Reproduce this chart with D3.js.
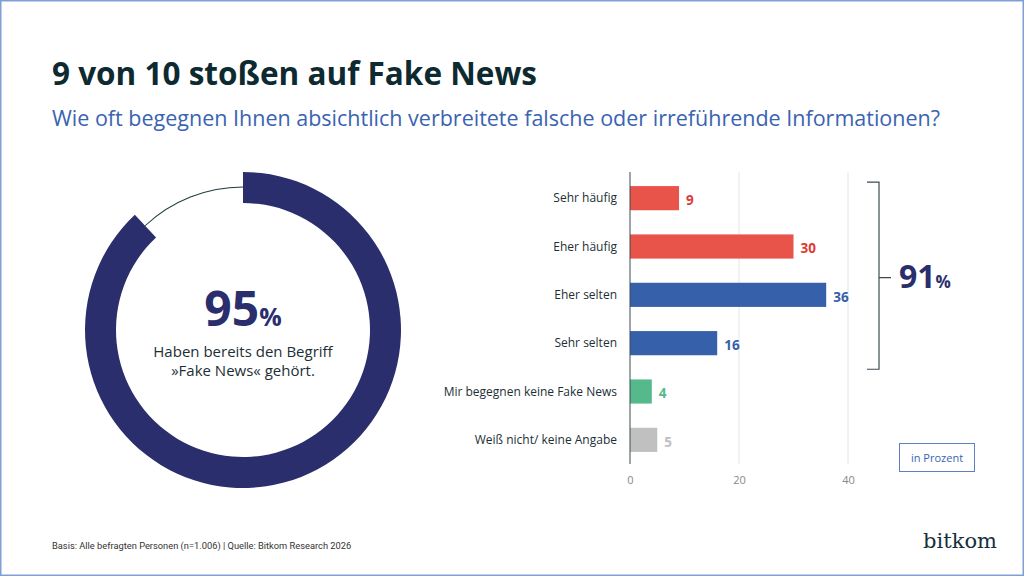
<!DOCTYPE html>
<html>
<head>
<meta charset="utf-8">
<script src="https://cdn.jsdelivr.net/npm/d3@7"></script>
<style>
  body { margin: 0; background: #fff; }
  svg { display: block; font-family: "Open Sans", "Noto Sans", sans-serif; }
</style>
</head>
<body>
<svg id="chart" width="1024" height="576"></svg>
<script>
// data
var categories = ["Sehr häufig", "Eher häufig", "Eher selten", "Sehr selten", "Mir begegnen keine Fake News", "Weiß nicht/ keine Angabe"];
var values = [9, 30, 36, 16, 4, 5];
var barColors = ["#e8534a", "#e8534a", "#3660a9", "#3660a9", "#56b98b", "#c0c0c0"];
var labelColors = ["#e03a36", "#e03a36", "#3660a9", "#3660a9", "#56b98b", "#c0c0c0"];
var xTicks = [0, 20, 40];
var donutValue = 95;
var ringShare = 88; // share of the ring that is filled, as drawn in the picture
var bracketTotal = 91;

var svg = d3.select("#chart");

// frame
svg.append("rect")
  .attr("x", 0.75).attr("y", 0.75)
  .attr("width", 1022.5).attr("height", 574.5)
  .attr("fill", "none")
  .attr("stroke", "#7f9fd6")
  .attr("stroke-width", 1.5);

// titles
svg.append("text")
  .attr("x", 52).attr("y", 85)
  .attr("font-size", 31.5).attr("font-weight", 700)
  .attr("fill", "#0e2a31")
  .text("9 von 10 stoßen auf Fake News");

svg.append("text")
  .attr("x", 52).attr("y", 126)
  .attr("font-size", 21.5)
  .attr("fill", "#3a63b1")
  .text("Wie oft begegnen Ihnen absichtlich verbreitete falsche oder irreführende Informationen?");

// donut
var cx = 243, cy = 330;
var donut = svg.append("g").attr("transform", "translate(" + cx + "," + cy + ")");
var pie = d3.pie().sort(null).value(function(d) { return d; });
var arcs = pie([ringShare, 100 - ringShare]);

donut.append("path")
  .attr("d", d3.arc().innerRadius(127).outerRadius(158)(arcs[0]))
  .attr("fill", "#2b2e6c");

donut.append("path")
  .attr("d", d3.arc().innerRadius(142.5).outerRadius(143.5)(arcs[1]))
  .attr("fill", "#1f3a3c");

donut.append("text")
  .attr("x", 0).attr("y", -4)
  .attr("text-anchor", "middle")
  .attr("font-weight", 700)
  .attr("fill", "#2b2e6c")
  .call(function(t) {
    t.append("tspan").attr("font-size", 48).text(donutValue);
    t.append("tspan").attr("font-size", 25).text("%");
  });

donut.append("text")
  .attr("x", 0).attr("y", 27)
  .attr("text-anchor", "middle")
  .attr("font-size", 15)
  .attr("fill", "#1d2f36")
  .text("Haben bereits den Begriff");

donut.append("text")
  .attr("x", 0).attr("y", 46)
  .attr("text-anchor", "middle")
  .attr("font-size", 15)
  .attr("fill", "#1d2f36")
  .text("»Fake News« gehört.");

// bars
var x = d3.scaleLinear().domain([0, 40]).range([630, 848]);
var y = d3.scaleBand().domain(categories).range([174, 464]).paddingInner(0.5).paddingOuter(0.25);

var grid = svg.append("g");
grid.selectAll("line")
  .data(xTicks.slice(1))
  .join("line")
  .attr("x1", function(d) { return x(d); })
  .attr("x2", function(d) { return x(d); })
  .attr("y1", 172).attr("y2", 464)
  .attr("stroke", "#e4e4e4");

var xAxis = d3.axisBottom(x).tickValues(xTicks).tickSize(0).tickPadding(12);
svg.append("g")
  .attr("transform", "translate(0,464)")
  .call(xAxis)
  .call(function(g) { g.select(".domain").remove(); })
  .selectAll("text")
  .attr("font-family", "Open Sans, sans-serif")
  .attr("font-size", 11)
  .attr("fill", "#888");

svg.selectAll("rect.bar")
  .data(values)
  .join("rect")
  .attr("class", "bar")
  .attr("x", x(0))
  .attr("y", function(d, i) { return y(categories[i]); })
  .attr("width", function(d) { return x(d) - x(0); })
  .attr("height", y.bandwidth())
  .attr("fill", function(d, i) { return barColors[i]; });

svg.append("line")
  .attr("x1", x(0)).attr("x2", x(0))
  .attr("y1", 172).attr("y2", 464)
  .attr("stroke", "#3c4a50")
  .attr("stroke-width", 1);

svg.selectAll("text.cat")
  .data(categories)
  .join("text")
  .attr("class", "cat")
  .attr("x", 617)
  .attr("y", function(d) { return y(d) + y.bandwidth() / 2; })
  .attr("dy", "0.35em")
  .attr("text-anchor", "end")
  .attr("font-size", 12)
  .attr("fill", "#1d2f36")
  .text(function(d) { return d; });

svg.selectAll("text.val")
  .data(values)
  .join("text")
  .attr("class", "val")
  .attr("x", function(d) { return x(d) + 7; })
  .attr("y", function(d, i) { return y(categories[i]) + y.bandwidth() / 2 + 2; })
  .attr("dy", "0.35em")
  .attr("font-size", 13.5)
  .attr("font-weight", 700)
  .attr("fill", function(d, i) { return labelColors[i]; })
  .text(function(d) { return d; });

// bracket around the first four bars
var bTop = y(categories[0]) - 4, bBot = y(categories[3]) + y.bandwidth() + 14;
var bMid = (bTop + bBot) / 2 + 2;
svg.append("path")
  .attr("d", "M867," + bTop + "H879V" + bBot + "H867M879," + bMid + "H891")
  .attr("fill", "none")
  .attr("stroke", "#3c4a50")
  .attr("stroke-width", 1.2);

svg.append("text")
  .attr("x", 899).attr("y", bMid + 10)
  .attr("font-weight", 700)
  .attr("fill", "#2b2e6c")
  .call(function(t) {
    t.append("tspan").attr("font-size", 32).text(bracketTotal);
    t.append("tspan").attr("font-size", 17).text("%");
  });

// unit box
svg.append("rect")
  .attr("x", 899.5).attr("y", 443.5)
  .attr("width", 75).attr("height", 28)
  .attr("fill", "#fff")
  .attr("stroke", "#5d7fc4");

svg.append("text")
  .attr("x", 937).attr("y", 458)
  .attr("dy", "0.35em")
  .attr("text-anchor", "middle")
  .attr("font-size", 11)
  .attr("fill", "#3a63b1")
  .text("in Prozent");

// footer
svg.append("text")
  .attr("x", 52).attr("y", 549)
  .attr("font-family", "Liberation Sans Narrow, Roboto, sans-serif")
  .attr("font-size", 9.3)
  .attr("fill", "#333")
  .text("Basis: Alle befragten Personen (n=1.006) | Quelle: Bitkom Research 2026");

svg.append("text")
  .attr("x", 997).attr("y", 548)
  .attr("text-anchor", "end")
  .attr("font-family", "DejaVu Serif, serif")
  .attr("font-size", 21)
  .attr("fill", "#14303a")
  .text("bitkom");
</script>
</body>
</html>
